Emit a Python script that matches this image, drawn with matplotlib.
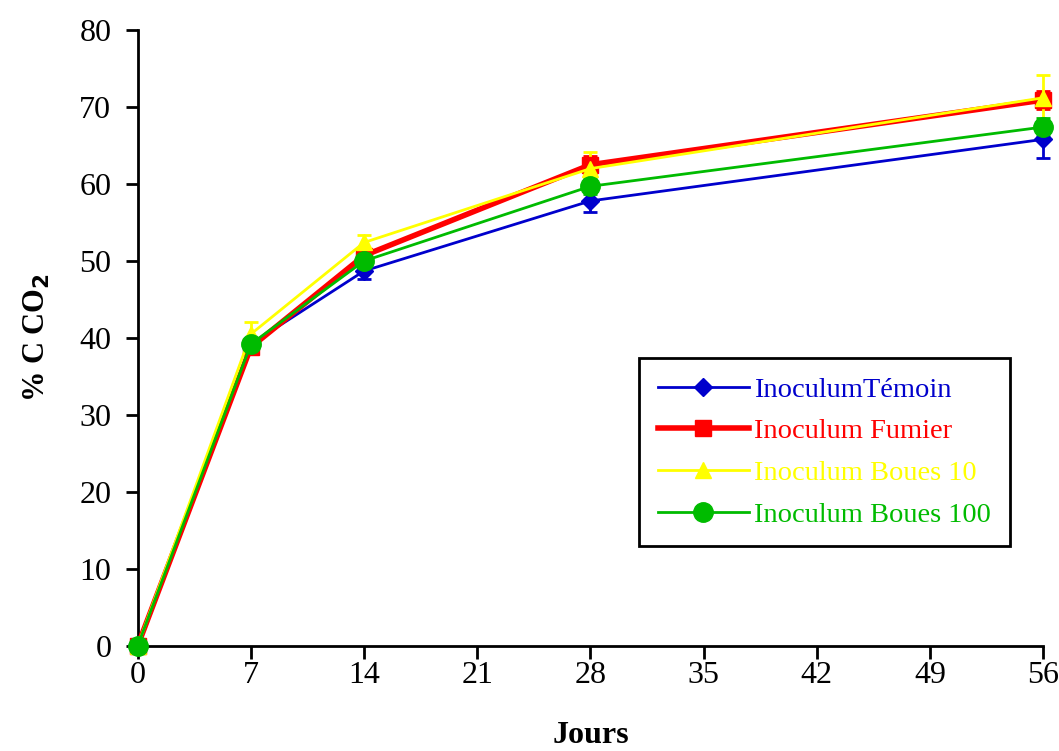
import numpy as np
from matplotlib import pyplot as plt
from matplotlib.lines import Line2D

jours = [0, 7, 14, 28, 56]

temoin = [0.0, 39.2, 48.7, 57.8, 65.8]
temoin_err = [0.0, 0.6, 1.0, 1.5, 2.4]
fumier = [0.0, 38.8, 50.7, 62.5, 70.9]
fumier_err = [0.0, 0.6, 0.7, 1.2, 1.2]
boues10 = [0.0, 40.5, 52.4, 62.0, 71.2]
boues10_err = [0.0, 1.6, 1.0, 2.2, 3.0]
boues100 = [0.0, 39.2, 50.0, 59.7, 67.4]
boues100_err = [0.0, 0.5, 0.6, 1.0, 1.2]

series = [
    ("InoculumTémoin", temoin, temoin_err, "#0000cc", "D", 2, 9),
    ("Inoculum Fumier", fumier, fumier_err, "#ff0000", "s", 4, 12),
    ("Inoculum Boues 10", boues10, boues10_err, "#ffff00", "^", 2, 12),
    ("Inoculum Boues 100", boues100, boues100_err, "#00bb00", "o", 2, 14),
]

plt.rcParams['font.family'] = ['Liberation Serif', 'DejaVu Serif']

fig = plt.figure(figsize=(10.59, 7.51), dpi=100)
ax = fig.add_axes([0.130, 0.140, 0.855, 0.820])

handles = []
for name, y, err, col, mk, lw, ms in series:
    ax.errorbar(jours, y, yerr=err, color=col, marker=mk, lw=lw, ms=ms,
                capsize=5, capthick=2, elinewidth=2, clip_on=False, zorder=3)
    handles.append(Line2D([], [], color=col, marker=mk, lw=lw, ms=ms, label=name))

ax.set_xlim(0, 56)
ax.set_ylim(0, 80)
ax.set_xticks(np.arange(0, 57, 7))
ax.set_yticks(np.arange(0, 81, 10))
ax.spines['top'].set_visible(False)
ax.spines['right'].set_visible(False)
ax.spines['left'].set_linewidth(2)
ax.spines['bottom'].set_linewidth(2)
ax.tick_params(labelsize=23, width=2, length=9, direction='out')
ax.tick_params(axis='x', pad=2)
ax.tick_params(axis='y', pad=10)

ax.set_xlabel("Jours", fontsize=23, fontweight='bold', labelpad=22)
ax.set_ylabel("% C CO$_\\mathbf{2}$", fontsize=22, fontweight='bold', labelpad=20)

leg = ax.legend(handles=handles, loc='upper left', bbox_to_anchor=(0.538, 0.490),
                fontsize=20.5, fancybox=False, edgecolor='black', framealpha=1,
                handlelength=3.2, borderpad=0.65, labelspacing=0.55,
                handletextpad=0.2)
leg.get_frame().set_linewidth(2)
for txt, s in zip(leg.get_texts(), series):
    txt.set_color(s[3])

fig.savefig("out.png", dpi=100)
